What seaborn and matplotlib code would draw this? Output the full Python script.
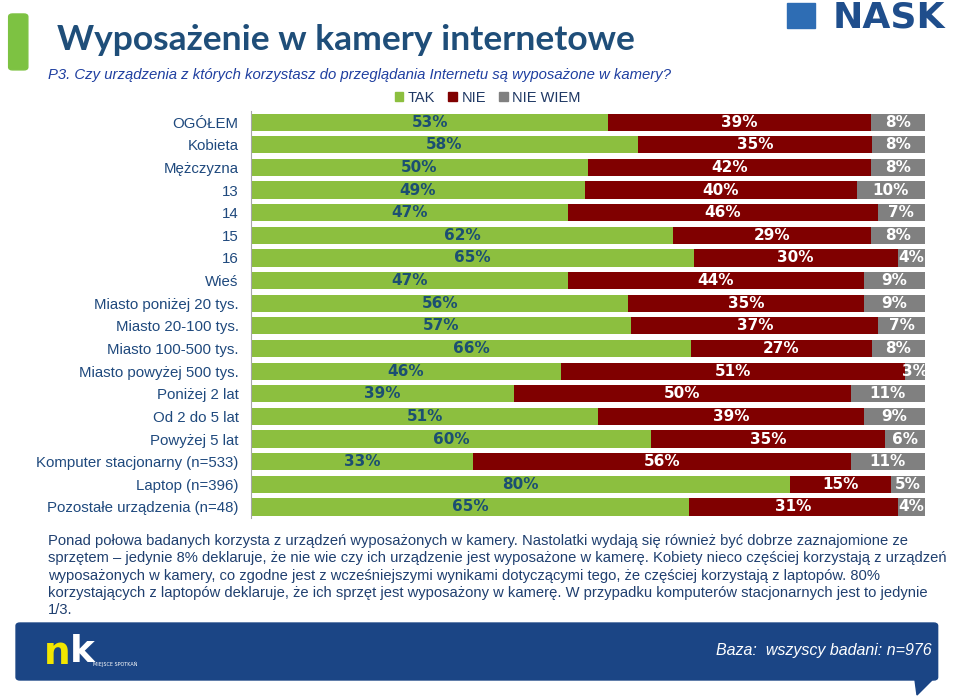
import pandas as pd
import seaborn as sns
import matplotlib.pyplot as plt
from matplotlib.patches import FancyBboxPatch, Rectangle, Polygon

categories = ['OGÓŁEM', 'Kobieta', 'Mężczyzna', '13', '14', '15', '16', 'Wieś',
              'Miasto poniżej 20 tys.', 'Miasto 20-100 tys.', 'Miasto 100-500 tys.',
              'Miasto powyżej 500 tys.', 'Poniżej 2 lat', 'Od 2 do 5 lat', 'Powyżej 5 lat',
              'Komputer stacjonarny (n=533)', 'Laptop (n=396)', 'Pozostałe urządzenia (n=48)']
tak = [53, 58, 50, 49, 47, 62, 65, 47, 56, 57, 66, 46, 39, 51, 60, 33, 80, 65]
nie = [39, 35, 42, 40, 46, 29, 30, 44, 35, 37, 27, 51, 50, 39, 35, 56, 15, 31]
nie_wiem = [8, 8, 8, 10, 7, 8, 4, 9, 9, 7, 8, 3, 11, 9, 6, 11, 5, 4]
series_names = ['TAK', 'NIE', 'NIE WIEM']

title = 'Wyposażenie w kamery internetowe'
subtitle = 'P3. Czy urządzenia z których korzystasz do przeglądania Internetu są wyposażone w kamery?'
comment_lines = [
    'Ponad połowa badanych korzysta z urządzeń wyposażonych w kamery. Nastolatki wydają się również być dobrze zaznajomione ze',
    'sprzętem – jedynie 8% deklaruje, że nie wie czy ich urządzenie jest wyposażone w kamerę. Kobiety nieco częściej korzystają z urządzeń',
    'wyposażonych w kamery, co zgodne jest z wcześniejszymi wynikami dotyczącymi tego, że częściej korzystają z laptopów. 80%',
    'korzystających z laptopów deklaruje, że ich sprzęt jest wyposażony w kamerę. W przypadku komputerów stacjonarnych jest to jedynie',
    '1/3.',
]
base_text = 'Baza:  wszyscy badani: n=976'

green, red, grey = '#8CBF3F', '#800000', '#808080'
navy = '#1F497D'
sans = 'Liberation Sans'

df = pd.DataFrame({'kategoria': categories, 'TAK': tak, 'NIE': nie, 'NIE WIEM': nie_wiem})
# rounded shares do not always add up to 100 - scale the bars to full width
total = df['TAK'] + df['NIE'] + df['NIE WIEM']
df['w_tak'] = df['TAK'] / total * 100
df['w_nie'] = df['NIE'] / total * 100
df['w_nw'] = df['NIE WIEM'] / total * 100
df['c_tak'] = df['w_tak']
df['c_nie'] = df['w_tak'] + df['w_nie']
df['c_all'] = df['c_nie'] + df['w_nw']

fig = plt.figure(figsize=(9.6, 6.99), dpi=100)
ax = fig.add_axes([0.2615, 0.2585, 0.702, 0.583])

# stacked bars: draw cumulative totals back to front
for col, colr in [('c_all', grey), ('c_nie', red), ('c_tak', green)]:
    sns.barplot(data=df, x=col, y='kategoria', order=categories, color=colr,
                saturation=1, width=0.76, ax=ax, linewidth=0)

for i, row in df.iterrows():
    ax.text(row['w_tak'] / 2, i, f"{row['TAK']}%", ha='center', va='center',
            fontsize=11, fontweight='bold', color='#1B4F72')
    ax.text(row['c_tak'] + row['w_nie'] / 2, i, f"{row['NIE']}%", ha='center', va='center',
            fontsize=11, fontweight='bold', color='white')
    ax.text(row['c_nie'] + row['w_nw'] / 2, i, f"{row['NIE WIEM']}%", ha='center',
            va='center', fontsize=11, fontweight='bold', color='white', clip_on=False)

ax.set_xlim(0, 100)
ax.set_ylim(len(categories) - 0.5, -0.5)
ax.set_xlabel('')
ax.set_ylabel('')
ax.set_xticks([])
ax.tick_params(axis='y', length=0, pad=9, labelsize=10.8, labelcolor=navy)
for lab in ax.get_yticklabels():
    lab.set_family(sans)
for s in ['top', 'right', 'bottom']:
    ax.spines[s].set_visible(False)
ax.spines['left'].set_color('#A6A6A6')
ax.spines['left'].set_linewidth(0.8)

handles = [Rectangle((0, 0), 1, 1, color=c) for c in (green, red, grey)]
fig.legend(handles, series_names, loc='center', bbox_to_anchor=(0.508, 0.86), ncol=3,
           frameon=False, prop={'family': sans, 'size': 10.5}, handlelength=0.6,
           handleheight=0.6, handletextpad=0.3, columnspacing=0.9, labelcolor='#1F3864')

# header
fig.patches.append(FancyBboxPatch((0.009, 0.900), 0.020, 0.080, boxstyle='round,pad=0,rounding_size=0.004',
                                  transform=fig.transFigure, color='#7DC242'))
fig.text(0.059, 0.943, title, fontsize=25.5, fontweight='bold', color='#1F4E79',
         family='Lato', va='center')
fig.text(0.05, 0.893, subtitle, fontsize=10.7, style='italic', color='#1F3FA0',
         va='center', family=sans)

# NASK logo
fig.patches.append(Rectangle((0.82, 1 - 28 / 699), 0.029, 25 / 699, transform=fig.transFigure,
                             color='#2E6DB4'))
fig.text(0.985, 1 - 28 / 699, 'NASK', fontsize=26, fontweight='heavy', color='#1F4E8C',
         ha='right', va='baseline', family='DejaVu Sans')

# comment paragraph
for k, line in enumerate(comment_lines):
    fig.text(0.05, 1 - (541 + 17.3 * k) / 699, line, fontsize=10.6, color='#1F3F6F',
             va='center', family=sans)

# bottom banner
fig.patches.append(FancyBboxPatch((0.0167, 0.0272), 0.960, 0.0815, boxstyle='round,pad=0,rounding_size=0.004',
                                  transform=fig.transFigure, color='#1B4585'))
fig.patches.append(Polygon([(915 / 960, 1 - 680 / 699), (932 / 960, 1 - 680 / 699), (917 / 960, 1 - 695 / 699)],
                           closed=True, transform=fig.transFigure, color='#1B4585'))
fig.text(0.970, 1 - 651 / 699, base_text, fontsize=11.5, style='italic', color='white',
         ha='right', va='center', family=sans)
fig.text(0.046, 1 - 654 / 699, 'n', fontsize=27, fontweight='bold', color='#F2E600', va='center')
fig.text(0.073, 1 - 652 / 699, 'k', fontsize=27, fontweight='bold', color='white', va='center')
fig.text(0.097, 1 - 664 / 699, 'MIEJSCE SPOTKAŃ', fontsize=3.5, color='white', va='center')

fig.savefig('out.png', dpi=100)
